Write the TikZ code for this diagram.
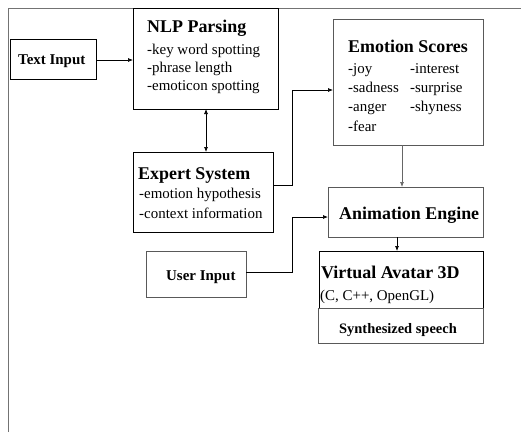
\documentclass[tikz,border=0pt]{standalone}
\usepackage{fontspec}
\setmainfont{Liberation Serif}
\usetikzlibrary{arrows.meta}
\begin{document}
\begin{tikzpicture}[x=1bp,y=-1bp,
  box/.style={draw=black, line width=0.8bp, inner sep=0, anchor=north west},
  gbox/.style={box, draw=black!65},
  title/.style={font=\fontsize{18}{20}\selectfont\bfseries, anchor=base west, inner sep=0},
  item/.style={font=\fontsize{15}{17}\selectfont, anchor=base west, inner sep=0},
  lbl/.style={font=\fontsize{15}{17}\selectfont\bfseries, anchor=base west, inner sep=0},
  arr/.style={-{Latex[length=5bp,width=4bp]}, line width=0.7bp},
  darr/.style={{Latex[length=5bp,width=4bp]}-{Latex[length=5bp,width=4bp]}, line width=0.7bp}]
\useasboundingbox (0,0) rectangle (521,432);
% frame
\draw[black!55, line width=0.8bp] (8,432) -- (8,8) -- (521,8);
% boxes
\node[box, minimum width=86bp, minimum height=40bp] (text) at (10,39) {};
\node[box, line width=1.1bp, minimum width=145bp, minimum height=101bp] (nlp) at (133,8) {};
\node[box, minimum width=140bp, minimum height=80bp] (expert) at (133,152) {};
\node[gbox, minimum width=150bp, minimum height=126bp] (emo) at (333,19) {};
\node[gbox, minimum width=155bp, minimum height=50bp] (anim) at (328,187) {};
\node[gbox, minimum width=100bp, minimum height=46bp] (user) at (146,251) {};
\node[box, minimum width=164bp, minimum height=57bp] (avatar) at (319,251) {};
\node[gbox, minimum width=165bp, minimum height=35bp] (speech) at (318,308) {};
% texts
\node[lbl] (t1) at (18,64) {Text Input};
\node[title] (t2) at (147,32) {NLP Parsing};
\node[item] (t3) at (147,54) {-key word spotting};
\node[item] (t4) at (147,72) {-phrase length};
\node[item] (t5) at (147,90) {-emoticon spotting};
\node[title] (t6) at (138,179) {Expert System};
\node[item] (t7) at (139,198) {-emotion hypothesis};
\node[item] (t8) at (139,218) {-context information};
\node[title] (t9) at (348,52) {Emotion Scores};
\node[item] (t10) at (348,73) {-joy};
\node[item] (t11) at (348,92) {-sadness};
\node[item] (t12) at (348,111) {-anger};
\node[item] (t13) at (348,131) {-fear};
\node[item] (t14) at (410,73) {-interest};
\node[item] (t15) at (410,92) {-surprise};
\node[item] (t16) at (410,111) {-shyness};
\node[title] (t17) at (339,219) {Animation Engine};
\node[lbl] (t18) at (166,280) {User Input};
\node[title] (t19) at (321,278) {Virtual Avatar 3D};
\node[item] (t20) at (320,300) {(C, C++, OpenGL)};
\node[lbl, font=\fontsize{14.5}{16}\selectfont\bfseries] (t21) at (339,333) {Synthesized speech};
% connector points
\coordinate (a1) at (96,60);
\coordinate (a2) at (133,60);
\coordinate (b1) at (206,109);
\coordinate (b2) at (206,152);
\coordinate (c1) at (273,185);
\coordinate (c2) at (333,90);
\coordinate (d1) at (402,145);
\coordinate (d2) at (402,187);
\coordinate (e1) at (246,272);
\coordinate (e2) at (328,217);
\coordinate (f1) at (397,237);
\coordinate (f2) at (397,251);
% connectors
\draw[arr] (a1) -- (a2);
\draw[darr] (b1) -- (b2);
\draw[arr] (c1) -- (292,185) -- (292,90) -- (c2);
\draw[arr, black!60] (d1) -- (d2);
\draw[arr] (e1) -- (292,272) -- (292,217) -- (e2);
\draw[arr] (f1) -- (f2);
\end{tikzpicture}
\end{document}
